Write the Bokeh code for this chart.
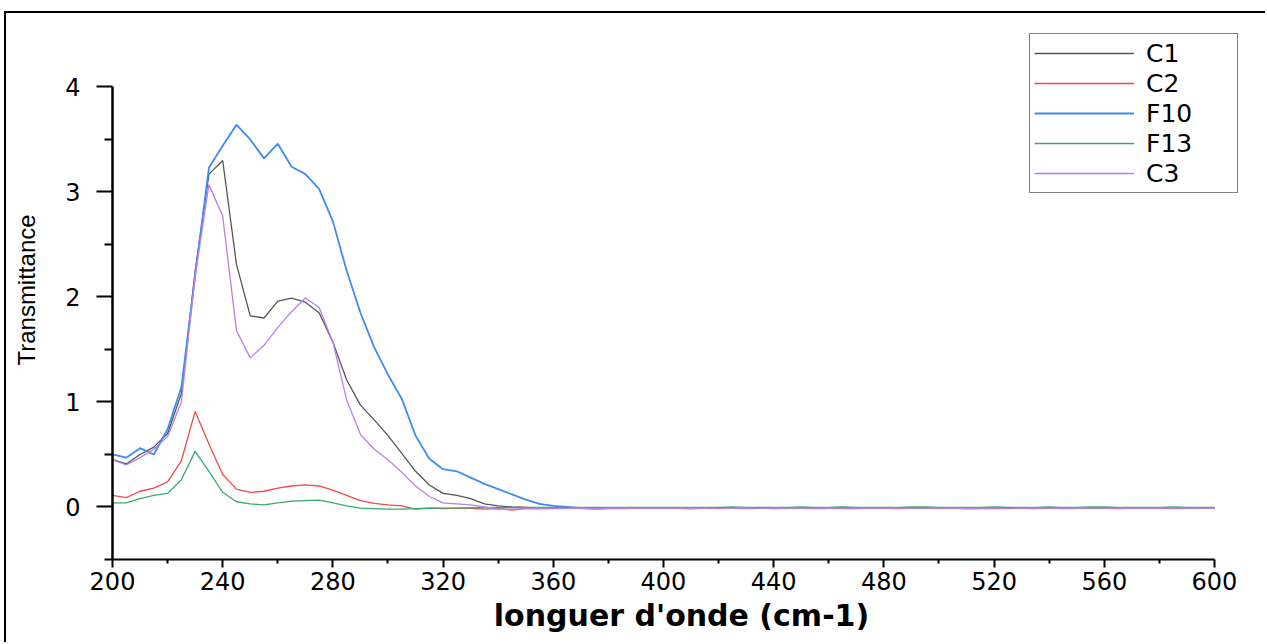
from bokeh.plotting import figure
from bokeh.models import Range1d, FixedTicker, Legend, LegendItem
from bokeh.embed import file_html
from bokeh.resources import INLINE

wavelength = list(range(200, 605, 5))

c1 = [0.45, 0.41, 0.50, 0.57, 0.70, 1.08, 2.25, 3.17, 3.30, 2.31,
      1.82, 1.80, 1.96, 1.99, 1.95, 1.85, 1.57, 1.21, 0.97, 0.83,
      0.68, 0.51, 0.34, 0.21, 0.13, 0.11, 0.08, 0.03, 0.01, 0.00,
      -0.005, -0.01, -0.008, -0.01, -0.01, -0.006, -0.01, -0.008, -0.01, -0.01,
      -0.008, -0.01, -0.01, -0.006, -0.01, -0.01, -0.008, -0.01, -0.01, -0.01,
      -0.01, -0.008, -0.01, -0.01, -0.006, -0.01, -0.01, -0.008, -0.01, -0.01,
      -0.01, -0.008, -0.01, -0.01, -0.01, -0.006, -0.01, -0.01, -0.008, -0.01,
      -0.01, -0.01, -0.008, -0.01, -0.01, -0.006, -0.01, -0.01, -0.01, -0.008,
      -0.01]

c2 = [0.11, 0.09, 0.15, 0.18, 0.24, 0.44, 0.91, 0.60, 0.31, 0.17,
      0.14, 0.15, 0.18, 0.20, 0.21, 0.20, 0.16, 0.11, 0.06, 0.035,
      0.02, 0.01, -0.02, -0.01, -0.015, -0.01, -0.012, -0.02, -0.015, -0.03,
      -0.012, -0.015, -0.012, -0.01, -0.012, -0.02, -0.015, -0.012, -0.01, -0.012,
      -0.01, -0.012, -0.015, -0.01, -0.012, -0.01, -0.012, -0.01, -0.015, -0.012,
      -0.01, -0.012, -0.01, -0.012, -0.015, -0.01, -0.012, -0.01, -0.012, -0.01,
      -0.012, -0.01, -0.015, -0.012, -0.01, -0.012, -0.01, -0.012, -0.01, -0.015,
      -0.012, -0.01, -0.012, -0.01, -0.012, -0.006, -0.01, -0.012, -0.01, -0.012,
      -0.01]

f10 = [0.50, 0.47, 0.56, 0.50, 0.74, 1.14, 2.20, 3.23, 3.44, 3.64,
       3.50, 3.32, 3.46, 3.24, 3.17, 3.03, 2.72, 2.25, 1.85, 1.52,
       1.26, 1.03, 0.68, 0.46, 0.36, 0.34, 0.28, 0.22, 0.17, 0.12,
       0.07, 0.03, 0.01, 0.00, -0.01, -0.01, -0.01, -0.012, -0.01, -0.01,
       -0.008, -0.01, -0.012, -0.01, -0.01, -0.01, -0.012, -0.01, -0.008, -0.01,
       -0.01, -0.012, -0.01, -0.01, -0.01, -0.008, -0.01, -0.012, -0.01, -0.01,
       -0.01, -0.01, -0.012, -0.01, -0.014, -0.01, -0.01, -0.012, -0.01, -0.01,
       -0.008, -0.01, -0.01, -0.012, -0.01, -0.01, -0.01, -0.012, -0.01, -0.01,
       -0.01]

f13 = [0.04, 0.04, 0.08, 0.11, 0.13, 0.26, 0.53, 0.34, 0.14, 0.05,
       0.03, 0.02, 0.04, 0.055, 0.06, 0.065, 0.04, 0.01, -0.01, -0.015,
       -0.02, -0.02, -0.015, -0.012, -0.01, -0.01, -0.008, -0.006, -0.005, -0.005,
       -0.004, -0.004, -0.003, -0.004, -0.003, -0.004, -0.003, -0.003, -0.004, -0.003,
       -0.003, -0.004, -0.003, -0.003, -0.003, 0.000, -0.003, -0.003, -0.003, -0.003,
       0.000, -0.003, -0.003, 0.000, -0.003, -0.003, -0.003, -0.003, 0.000, 0.000,
       -0.003, -0.003, -0.003, -0.003, 0.000, -0.003, -0.003, -0.003, 0.000, -0.003,
       -0.003, 0.000, 0.000, -0.003, -0.003, -0.003, -0.003, 0.000, -0.003, -0.003,
       -0.003]

c3 = [0.45, 0.40, 0.47, 0.55, 0.67, 1.00, 2.20, 3.07, 2.77, 1.68,
      1.42, 1.54, 1.71, 1.86, 1.99, 1.90, 1.57, 1.02, 0.69, 0.55,
      0.45, 0.33, 0.20, 0.10, 0.04, 0.03, 0.02, 0.00, -0.02, -0.02,
      -0.015, -0.012, -0.015, -0.012, -0.012, -0.015, -0.012, -0.012, -0.01, -0.012,
      -0.012, -0.01, -0.012, -0.012, -0.015, -0.012, -0.012, -0.01, -0.012, -0.012,
      -0.012, -0.01, -0.012, -0.015, -0.012, -0.012, -0.012, -0.01, -0.012, -0.012,
      -0.012, -0.012, -0.01, -0.012, -0.012, -0.015, -0.012, -0.012, -0.01, -0.012,
      -0.012, -0.012, -0.012, -0.01, -0.012, -0.012, -0.012, -0.012, -0.01, -0.012,
      -0.012]

series_names = ["C1", "C2", "F10", "F13", "C3"]
series_values = [c1, c2, f10, f13, c3]
series_colors = ["#555555", "#f04a4a", "#3d8cf0", "#3aaa6a", "#b880ea"]
series_widths = [1.3, 1.3, 1.8, 1.3, 1.3]

x_major = [200, 240, 280, 320, 360, 400, 440, 480, 520, 560, 600]
x_minor = [220, 260, 300, 340, 380, 420, 460, 500, 540, 580]
y_major = [0, 1, 2, 3, 4]
y_minor = [-0.5, 0.5, 1.5, 2.5, 3.5]

FONT = "DejaVu Sans"
TITLE_FONT_Y = "Liberation Sans"

p = figure(width=1261, height=631,
           x_range=Range1d(200, 613.07), y_range=Range1d(-0.5, 4.633),
           output_backend="svg", toolbar_location=None,
           min_border_left=106, min_border_right=17,
           min_border_top=7, min_border_bottom=85)
p.styles = {"margin-left": "4px", "margin-top": "11px",
            "border-left": "2px solid black", "border-top": "2px solid black"}

p.outline_line_color = None
p.xgrid.visible = False
p.ygrid.visible = False
p.background_fill_color = "white"
p.border_fill_color = "white"

items = []
for name, vals, col, w in zip(series_names, series_values, series_colors, series_widths):
    r = p.line(wavelength, vals, line_color=col, line_width=w)
    items.append(LegendItem(label=name, renderers=[r]))

# axes
xa = p.xaxis[0]
xa.ticker = FixedTicker(ticks=x_major, minor_ticks=x_minor)
xa.bounds = (200, 600)
xa.axis_line_width = 2
xa.axis_line_color = "black"
xa.major_tick_line_width = 2
xa.minor_tick_line_width = 2
xa.major_tick_line_color = "black"
xa.minor_tick_line_color = "black"
xa.major_tick_in = 0
xa.major_tick_out = 8
xa.minor_tick_in = 0
xa.minor_tick_out = 4
xa.major_label_text_font = FONT
xa.major_label_text_font_size = "24px"
xa.major_label_text_color = "black"
xa.major_label_standoff = 4
xa.axis_label = "longuer d'onde (cm-1)"
xa.axis_label_text_font = FONT
xa.axis_label_text_font_size = "30px"
xa.axis_label_text_font_style = "bold"
xa.axis_label_text_color = "black"
xa.axis_label_standoff = 5

ya = p.yaxis[0]
ya.ticker = FixedTicker(ticks=y_major, minor_ticks=y_minor)
ya.bounds = (-0.5, 4)
ya.axis_line_width = 2.5
ya.axis_line_color = "black"
ya.major_tick_line_width = 2
ya.minor_tick_line_width = 2
ya.major_tick_line_color = "black"
ya.minor_tick_line_color = "black"
ya.major_tick_in = 0
ya.major_tick_out = 16
ya.minor_tick_in = 0
ya.minor_tick_out = 8
ya.major_label_text_font = FONT
ya.major_label_text_font_size = "24px"
ya.major_label_text_color = "black"
ya.major_label_standoff = 16
ya.axis_label = "Transmittance"
ya.axis_label_text_font = TITLE_FONT_Y
ya.axis_label_text_font_size = "24px"
ya.axis_label_text_font_style = "normal"
ya.axis_label_text_color = "black"
ya.axis_label_standoff = 22

legend = Legend(items=items, location=(917, 366), margin=0, padding=4,
                spacing=0, label_height=30, glyph_height=30, glyph_width=100,
                label_width=87, label_standoff=12,
                label_text_font=FONT, label_text_font_size="25px",
                label_text_color="black",
                border_line_color="black", border_line_width=1.5,
                background_fill_color="white", background_fill_alpha=1.0)
p.add_layout(legend, "center")

open("out.html", "w").write(file_html(p, INLINE))
